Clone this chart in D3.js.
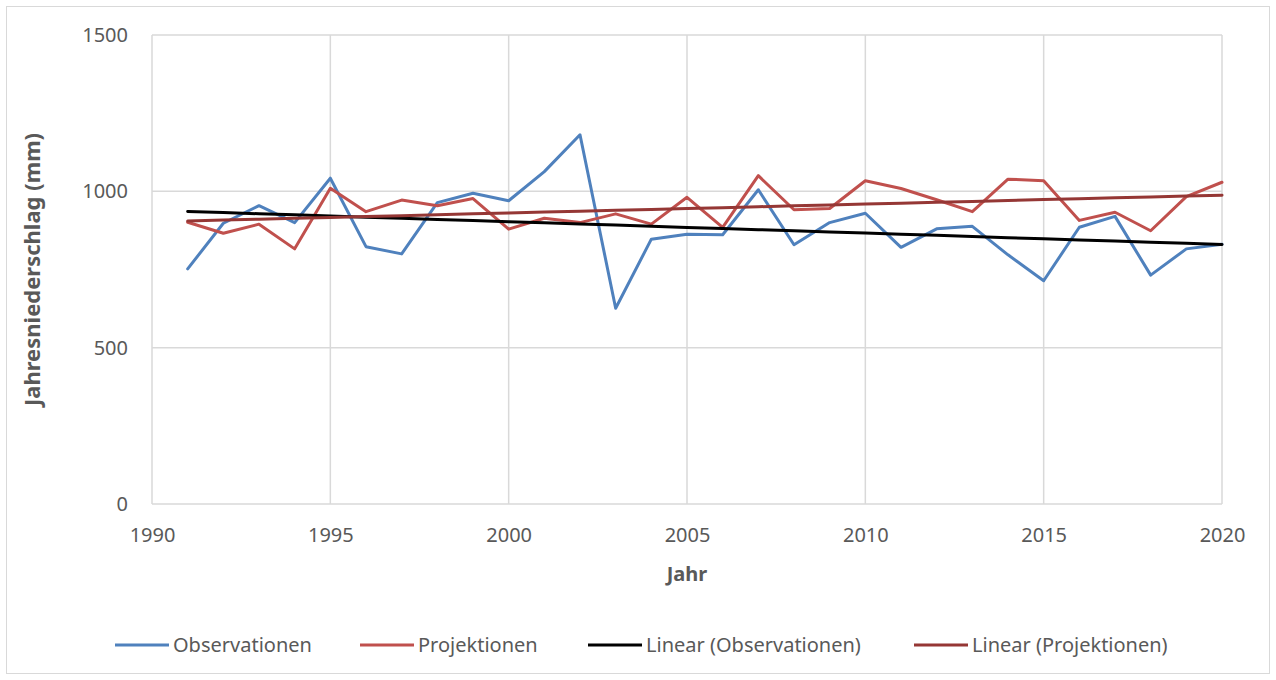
<!DOCTYPE html>
<html>
<head>
<meta charset="utf-8">
<script src="https://cdn.jsdelivr.net/npm/d3@7"></script>
<style>
  html, body { margin: 0; padding: 0; background: #fff; }
  svg { display: block; }
  text { font-family: "Noto Sans", "Open Sans", sans-serif; fill: #595959; }
</style>
</head>
<body>
<svg id="chart" width="1276" height="680"></svg>
<script>
// Jahre und Jahresniederschlag (mm)
const years = d3.range(1991, 2021);
const observationen = [752, 898, 954, 900, 1042, 823, 800, 964, 994, 970,
                       1063, 1181, 626, 847, 863, 861, 1005, 829, 900, 930,
                       821, 880, 888, 797, 714, 885, 920, 732, 816, 831];
const projektionen = [901, 866, 895, 816, 1010, 935, 972, 954, 977, 879,
                      914, 900, 928, 895, 981, 885, 1050, 941, 945, 1034,
                      1009, 973, 935, 1039, 1034, 907, 933, 874, 983, 1029];
const xTicks = [1990, 1995, 2000, 2005, 2010, 2015, 2020];
const yTicks = [0, 500, 1000, 1500];
const seriesNames = ["Observationen", "Projektionen", "Linear (Observationen)", "Linear (Projektionen)"];

const colors = {
  obs: "#4f81bd",
  proj: "#c0504d",
  obsTrend: "#000000",
  projTrend: "#953735"
};

const svg = d3.select("#chart");

// outer chart frame
svg.append("rect")
  .attr("x", 6.5).attr("y", 6.5)
  .attr("width", 1263).attr("height", 667)
  .attr("fill", "#fff").attr("stroke", "#d9d9d9").attr("stroke-width", 1);

const plot = { left: 152, right: 1222, top: 35, bottom: 504 };

const x = d3.scaleLinear().domain([1990, 2020]).range([plot.left, plot.right]);
const y = d3.scaleLinear().domain([0, 1500]).range([plot.bottom, plot.top]);

// gridlines
const grid = svg.append("g");
grid.selectAll("line.h").data(yTicks).join("line")
  .attr("x1", plot.left).attr("x2", plot.right)
  .attr("y1", d => y(d)).attr("y2", d => y(d))
  .attr("stroke", "#d9d9d9").attr("stroke-width", 1.5);
grid.selectAll("line.v").data(xTicks).join("line")
  .attr("x1", d => x(d)).attr("x2", d => x(d))
  .attr("y1", plot.top).attr("y2", plot.bottom)
  .attr("stroke", "#d9d9d9").attr("stroke-width", 1.5);

// axes (labels only, lines come from the grid)
const yAxis = d3.axisLeft(y).tickValues(yTicks).tickSize(0).tickPadding(0).tickFormat(d3.format("d"));
const yG = svg.append("g").attr("transform", `translate(${plot.left - 24},0)`).call(yAxis);
yG.select(".domain").remove();
yG.selectAll("text").attr("font-size", 20).attr("fill", "#595959")
  .attr("font-family", "'Noto Sans', sans-serif");

const xAxis = d3.axisBottom(x).tickValues(xTicks).tickSize(0).tickPadding(0).tickFormat(d3.format("d"));
const xG = svg.append("g").attr("transform", `translate(0,${plot.bottom + 24})`).call(xAxis);
xG.select(".domain").remove();
xG.selectAll("text").attr("font-size", 20).attr("fill", "#595959")
  .attr("font-family", "'Noto Sans', sans-serif");

// axis titles
svg.append("text")
  .attr("x", (plot.left + plot.right) / 2).attr("y", 581)
  .attr("text-anchor", "middle")
  .attr("font-size", 20).attr("font-weight", "bold")
  .text("Jahr");

svg.append("text")
  .attr("transform", `translate(40,${(plot.top + plot.bottom) / 2}) rotate(-90)`)
  .attr("text-anchor", "middle")
  .attr("font-size", 22).attr("font-weight", "bold")
  .text("Jahresniederschlag (mm)");

// least-squares trend line over the years
function linearFit(xs, ys) {
  const mx = d3.mean(xs), my = d3.mean(ys);
  const sxy = d3.sum(xs, (v, i) => (v - mx) * (ys[i] - my));
  const sxx = d3.sum(xs, v => (v - mx) ** 2);
  const b = sxy / sxx;
  const a = my - b * mx;
  return xs.map(v => a + b * v);
}

const line = d3.line()
  .x((d, i) => x(years[i]))
  .y(d => y(d));

const series = [
  { values: observationen, color: colors.obs },
  { values: projektionen, color: colors.proj },
  { values: linearFit(years, observationen), color: colors.obsTrend },
  { values: linearFit(years, projektionen), color: colors.projTrend }
];

svg.append("g").selectAll("path").data(series).join("path")
  .attr("d", d => line(d.values))
  .attr("fill", "none")
  .attr("stroke", d => d.color)
  .attr("stroke-width", 3)
  .attr("stroke-linejoin", "round")
  .attr("stroke-linecap", "round");

// legend
const legendItems = [
  { name: seriesNames[0], color: colors.obs, x: 115 },
  { name: seriesNames[1], color: colors.proj, x: 360 },
  { name: seriesNames[2], color: colors.obsTrend, x: 588 },
  { name: seriesNames[3], color: colors.projTrend, x: 914 }
];
const lg = svg.append("g").selectAll("g").data(legendItems).join("g")
  .attr("transform", d => `translate(${d.x},645)`);
lg.append("line")
  .attr("x1", 0).attr("x2", 54).attr("y1", 0).attr("y2", 0)
  .attr("stroke", d => d.color).attr("stroke-width", 3);
lg.append("text")
  .attr("x", 58).attr("y", 0).attr("dy", "0.35em")
  .attr("font-size", 20)
  .text(d => d.name);
</script>
</body>
</html>
